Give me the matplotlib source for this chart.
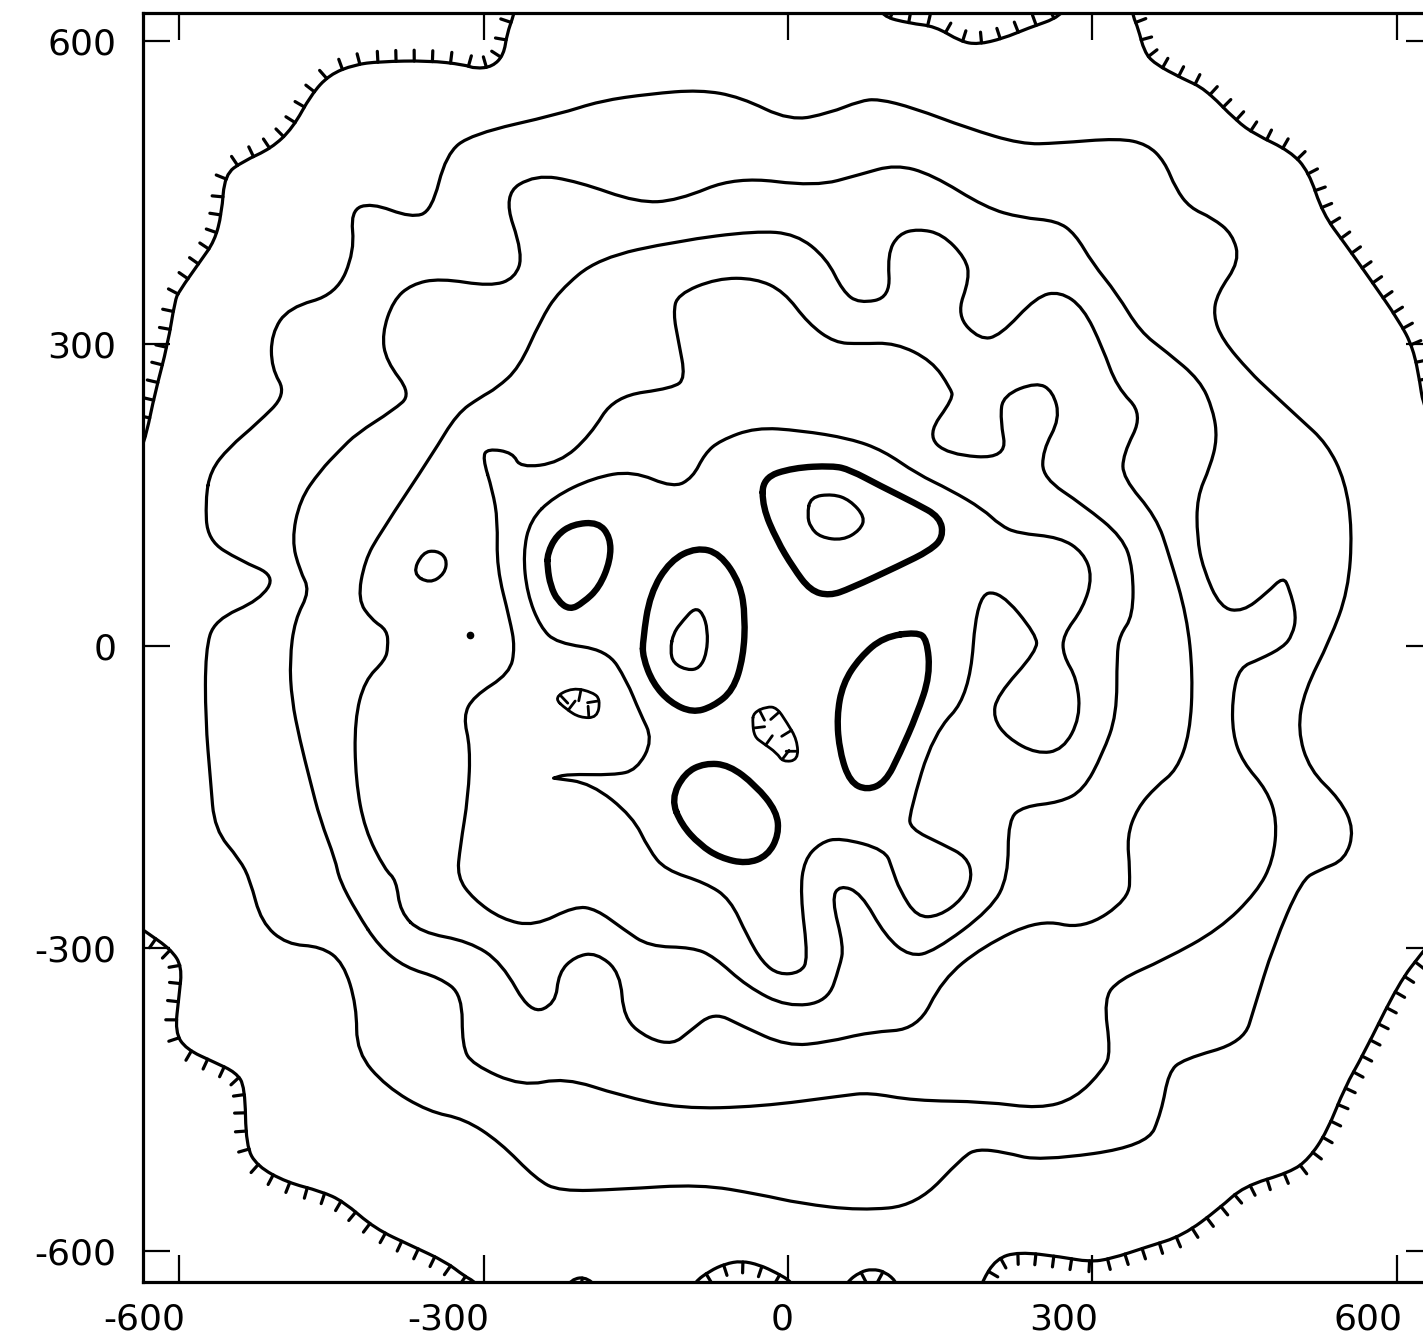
import matplotlib
matplotlib.use("Agg")
import matplotlib.pyplot as plt
from matplotlib import patheffects
from matplotlib.path import Path
from matplotlib.patches import PathPatch
from matplotlib.transforms import ScaledTranslation

plt.rcParams['axes.unicode_minus'] = False

# contour lines, (x, y) in map units
ring_1 = [(-569, 174), (-551, 197), (-523, 221), (-494, 250), (-509, 276), (-509, 310), (-492, 336),
          (-445, 349), (-427, 392), (-431, 432), (-411, 440), (-371, 425), (-351, 432), (-337, 488),
          (-312, 508), (-225, 528), (-185, 541), (-136, 548), (-87, 552), (-47, 545), (2, 521),
          (41, 529), (71, 541), (89, 543), (124, 534), (177, 514), (230, 498), (265, 499), (326, 504),
          (354, 498), (371, 481), (382, 454), (396, 435), (418, 425), (438, 409), (445, 382),
          (423, 350), (419, 328), (428, 304), (455, 272), (475, 253), (504, 226), (531, 201),
          (549, 164), (556, 115), (552, 55), (534, 6), (509, -44), (502, -83), (514, -123),
          (544, -152), (558, -182), (549, -212), (524, -222), (506, -232), (478, -298), (460, -357),
          (449, -393), (389, -410), (375, -423), (368, -462), (354, -496), (248, -511), (213, -502),
          (187, -499), (173, -506), (127, -555), (71, -560), (12, -553), (-28, -544), (-87, -534),
          (-165, -539), (-225, -541), (-248, -529), (-284, -492), (-319, -469), (-354, -462),
          (-396, -437), (-425, -403), (-425, -357), (-438, -314), (-460, -298), (-494, -296),
          (-519, -274), (-530, -232), (-540, -212), (-565, -182), (-569, -133), (-574, -73),
          (-574, -4), (-565, 26), (-520, 46), (-505, 70), (-540, 85), (-572, 105), (-574, 145)]

ring_2 = [(-425, -264), (-442, -232), (-446, -212), (-461, -172), (-471, -133), (-481, -93),
          (-489, -53), (-491, -14), (-486, 26), (-471, 55), (-481, 75), (-489, 105), (-481, 145),
          (-461, 174), (-442, 194), (-425, 211), (-389, 234), (-371, 250), (-396, 283), (-400, 310),
          (-389, 343), (-371, 359), (-343, 365), (-293, 357), (-269, 365), (-261, 389), (-281, 448),
          (-249, 468), (-207, 461), (-148, 440), (-109, 442), (-51, 466), (27, 456), (71, 468),
          (106, 478), (142, 468), (195, 435), (230, 425), (265, 422), (283, 409), (300, 380),
          (324, 350), (347, 312), (373, 292), (406, 264), (419, 234), (423, 206), (416, 178),
          (403, 148), (403, 108), (409, 77), (426, 38), (448, 34), (472, 53), (488, 69), (494, 57),
          (501, 30), (497, 11), (488, -1), (465, -13), (445, -21), (438, -49), (438, -87),
          (448, -115), (472, -143), (482, -173), (478, -213), (462, -244), (425, -281), (371, -311),
          (326, -331), (311, -350), (318, -403), (311, -420), (283, -449), (248, -459), (195, -452),
          (124, -451), (80, -443), (55, -446), (-28, -457), (-106, -459), (-165, -446), (-220, -428),
          (-262, -437), (-311, -415), (-321, -397), (-321, -346), (-343, -329), (-377, -319),
          (-403, -298)]

ring_3 = [(-382, -264), (-386, -232), (-397, -222), (-417, -182), (-426, -133), (-427, -73),
          (-417, -34), (-397, -14), (-394, -1), (-395, 16), (-410, 26), (-424, 46), (-417, 85),
          (-402, 112), (-350, 191), (-326, 231), (-303, 247), (-287, 256), (-265, 276), (-244, 323),
          (-226, 352), (-187, 385), (-109, 402), (-32, 412), (8, 409), (38, 385), (54, 352),
          (70, 340), (101, 346), (98, 389), (109, 409), (128, 414), (152, 409), (175, 385),
          (179, 365), (166, 328), (189, 304), (209, 308), (245, 347), (268, 352), (291, 336),
          (310, 296), (324, 257), (350, 230), (330, 190), (330, 167), (363, 128), (376, 89),
          (393, 30), (399, -29), (396, -87), (383, -123), (363, -139), (344, -161), (334, -189),
          (337, -222), (336, -251), (291, -281), (248, -271), (192, -298), (152, -331), (128, -380),
          (80, -383), (39, -393), (-1, -397), (-45, -377), (-73, -363), (-98, -383), (-113, -395),
          (-137, -390), (-162, -370), (-165, -324), (-189, -304), (-210, -308), (-226, -324),
          (-229, -355), (-254, -365), (-282, -314), (-314, -293), (-362, -284)]

ring_4 = [(-301, 187), (-296, 196), (-271, 192), (-264, 177), (-225, 182), (-195, 209), (-171, 248),
          (-113, 256), (-101, 266), (-108, 303), (-113, 330), (-109, 349), (-70, 365), (-32, 365),
          (-4, 352), (20, 320), (46, 301), (71, 300), (106, 301), (142, 283), (160, 256), (163, 246),
          (137, 210), (157, 190), (216, 186), (209, 226), (212, 249), (245, 262), (261, 253),
          (268, 226), (251, 194), (251, 167), (291, 140), (330, 108), (340, 77), (340, 30),
          (327, 11), (324, -9), (324, -68), (310, -107), (291, -143), (268, -155), (232, -159),
          (217, -172), (217, -229), (200, -261), (144, -303), (120, -308), (96, -288), (72, -245),
          (51, -237), (43, -251), (55, -298), (51, -318), (39, -353), (-1, -358), (-40, -338),
          (-73, -308), (-94, -299), (-137, -298), (-162, -281), (-189, -261), (-210, -258),
          (-250, -278), (-282, -271), (-310, -251), (-326, -229), (-323, -199), (-315, -149),
          (-313, -100), (-320, -70), (-310, -50), (-274, -27), (-269, -1), (-274, 26), (-287, 78),
          (-286, 125), (-291, 154)]

ring_5 = [(-231, 148), (-192, 167), (-153, 174), (-113, 157), (-94, 167), (-82, 191), (-67, 204),
          (-32, 217), (12, 214), (61, 206), (94, 194), (127, 171), (160, 155), (192, 136),
          (209, 120), (226, 112), (268, 108), (291, 93), (300, 69), (291, 38), (271, 11), (271, -9),
          (285, -33), (288, -71), (271, -103), (245, -107), (216, -91), (202, -71), (206, -49),
          (245, -5), (245, 11), (209, 55), (186, 50), (179, -49), (143, -87), (120, -165),
          (120, -181), (153, -197), (176, -209), (182, -229), (172, -251), (149, -268), (127, -269),
          (110, -242), (103, -222), (96, -202), (51, -190), (32, -195), (16, -212), (12, -245),
          (20, -311), (12, -324), (-9, -326), (-25, -314), (-40, -288), (-57, -251), (-81, -235),
          (-121, -222), (-137, -202), (-153, -169), (-194, -136), (-231, -131), (-231, -131),
          (-218, -127), (-172, -128), (-149, -123), (-133, -93), (-146, -66), (-159, -34),
          (-178, -4), (-228, 3), (-244, 19), (-257, 52), (-261, 92), (-254, 125)]

islet = [(-370, 72), (-360, 93), (-346, 95), (-336, 87), (-338, 72), (-353, 62)]
dot = (-313, 11)

# heavy contour round each maximum
peak_1 = [(-237, 92), (-228, 110), (-212, 121), (-187, 123), (-175, 108), (-175, 85), (-186, 58),
          (-202, 43), (-215, 36), (-227, 45), (-234, 60), (-237, 78)]
peak_2 = [(-143, 6), (-136, 52), (-116, 85), (-90, 98), (-67, 92), (-47, 62), (-42, 29), (-44, -11),
          (-54, -44), (-74, -60), (-94, -66), (-116, -56), (-133, -37), (-143, -11)]
peak_3 = [(-25, 167), (5, 177), (44, 179), (61, 175), (91, 159), (125, 142), (150, 128), (153, 108),
          (140, 95), (110, 80), (61, 57), (41, 50), (22, 55), (5, 78), (-11, 105), (-25, 138)]
peak_4 = [(127, 14), (137, 7), (140, -29), (127, -68), (110, -107), (96, -135), (78, -143),
          (61, -135), (51, -105), (48, -70), (54, -37), (71, -11), (94, 9)]
peak_5 = [(-115, -152), (-102, -126), (-82, -116), (-58, -118), (-32, -138), (-11, -164),
          (-9, -187), (-20, -208), (-41, -216), (-67, -210), (-87, -197), (-105, -177)]

top_2 = [(-113, 13), (-103, 26), (-92, 38), (-84, 33), (-79, 16), (-80, -7), (-87, -22), (-99, -24),
         (-113, -17), (-116, -4)]
top_3 = [(22, 148), (44, 151), (61, 145), (76, 128), (71, 115), (54, 105), (32, 108), (22, 118),
         (19, 130)]

# hachured contours near the corners, ticks on the low side
hatch_top_left = [(-645, 185), (-638, 194), (-632, 211), (-624, 250), (-611, 300), (-604, 343),
                  (-600, 352), (-579, 382), (-565, 402), (-558, 429), (-555, 468), (-537, 481),
                  (-509, 494), (-488, 514), (-470, 547), (-452, 567), (-427, 577), (-403, 580),
                  (-354, 581), (-319, 577), (-308, 573), (-291, 575), (-280, 587), (-277, 607),
                  (-270, 627), (-266, 645)]
hatch_top_mid = [(85, 645), (92, 625), (120, 618), (145, 615), (170, 600), (187, 597), (212, 603),
                 (236, 613), (270, 625), (278, 645)]
hatch_top_right = [(336, 645), (340, 625), (345, 613), (351, 590), (361, 578), (389, 563),
                   (411, 553), (442, 521), (460, 508), (495, 491), (513, 471), (527, 429),
                   (549, 399), (573, 365), (602, 323), (616, 296), (623, 260), (625, 244),
                   (640, 200), (650, 150)]
hatch_bottom_right = [(187, -645), (191, -631), (205, -608), (227, -601), (269, -606), (297, -611),
                      (318, -608), (354, -596), (389, -585), (425, -558), (449, -536), (495, -522),
                      (513, -509), (531, -482), (549, -437), (566, -407), (602, -334), (625, -304),
                      (640, -285), (650, -260)]
hatch_bottom_left = [(-645, -275), (-632, -284), (-608, -301), (-597, -318), (-600, -347),
                     (-604, -383), (-593, -400), (-565, -413), (-544, -423), (-535, -437),
                     (-534, -496), (-523, -516), (-494, -532), (-460, -541), (-438, -551),
                     (-407, -578), (-371, -595), (-337, -611), (-319, -625), (-308, -631),
                     (-300, -645)]
hatch_bottom_a = [(-97, -645), (-92, -631), (-77, -620), (-62, -613), (-46, -610), (-28, -614),
                  (-11, -622), (4, -631), (9, -645)]
hatch_bottom_b = [(53, -645), (58, -631), (71, -621), (83, -618), (96, -621), (107, -631),
                  (112, -645)]
hatch_bottom_c = [(-222, -645), (-214, -628), (-197, -626), (-181, -645)]

# closed depressions, ticks pointing inward
dip_1 = [(-231, -51), (-212, -41), (-192, -46), (-185, -53), (-188, -71), (-205, -71), (-218, -63)]
dip_2 = [(-34, -66), (-21, -60), (-11, -61), (-1, -76), (9, -93), (10, -113), (-5, -115),
         (-11, -106), (-25, -96), (-33, -90), (-35, -76)]

tick_vals = [-600, -300, 0, 300, 600]


def curve(pts, closed=False):
    # quadratic bezier path with the traced points as control points
    def mid(a, b):
        return ((a[0] + b[0]) / 2, (a[1] + b[1]) / 2)
    if closed:
        n = len(pts)
        verts = [mid(pts[-1], pts[0])]
        codes = [Path.MOVETO]
        for i in range(n):
            verts += [pts[i], mid(pts[i], pts[(i + 1) % n])]
            codes += [Path.CURVE3, Path.CURVE3]
    else:
        verts = [pts[0], mid(pts[0], pts[1])]
        codes = [Path.MOVETO, Path.LINETO]
        for i in range(1, len(pts) - 1):
            verts += [pts[i], mid(pts[i], pts[i + 1])]
            codes += [Path.CURVE3, Path.CURVE3]
        verts.append(pts[-1])
        codes.append(Path.LINETO)
    return Path(verts, codes)


def draw(ax, pts, closed=False, lw=2.0, effects=None):
    patch = PathPatch(curve(pts, closed), fill=False, edgecolor='black', lw=lw,
                      joinstyle='round', capstyle='round')
    if effects:
        patch.set_path_effects(effects)
    ax.add_patch(patch)


fig = plt.figure(figsize=(14.23, 13.37), dpi=100)
ax = fig.add_axes([0.1005, 0.0411, 0.9065, 0.949])

for ring in [ring_1, ring_2, ring_3, ring_4, ring_5, islet, top_2, top_3]:
    draw(ax, ring, closed=True, lw=2.3)
ax.plot([dot[0]], [dot[1]], 'o', color='black', ms=4.5)

for peak in [peak_1, peak_2, peak_3, peak_4, peak_5]:
    draw(ax, peak, closed=True, lw=4.6)

for line, ang in [(hatch_top_left, 90), (hatch_top_mid, 90), (hatch_top_right, 90),
                  (hatch_bottom_right, -90), (hatch_bottom_left, -90), (hatch_bottom_a, -90),
                  (hatch_bottom_b, -90), (hatch_bottom_c, -90)]:
    draw(ax, line, lw=2.3,
         effects=[patheffects.withTickedStroke(angle=ang, spacing=13, length=0.6)])

for dip in [dip_1, dip_2]:
    draw(ax, dip, closed=True, lw=2.0,
         effects=[patheffects.withTickedStroke(angle=-90, spacing=15, length=0.55)])

ax.set_xlim(-635.5, 635.5)
ax.set_ylim(-631, 628)
ax.set_xticks(tick_vals)
ax.set_yticks(tick_vals)
ax.tick_params(direction='in', length=19.5, width=1.6, top=True, right=True, labelsize=26)
ax.tick_params(axis='x', pad=15)
ax.tick_params(axis='y', pad=19)
for sp in ax.spines.values():
    sp.set_linewidth(2.3)

shift = ScaledTranslation(6 / 100, 0, fig.dpi_scale_trans)
for lab in ax.get_xticklabels():
    lab.set_horizontalalignment('right')
    lab.set_transform(lab.get_transform() + shift)

fig.savefig('out.png', dpi=100)
